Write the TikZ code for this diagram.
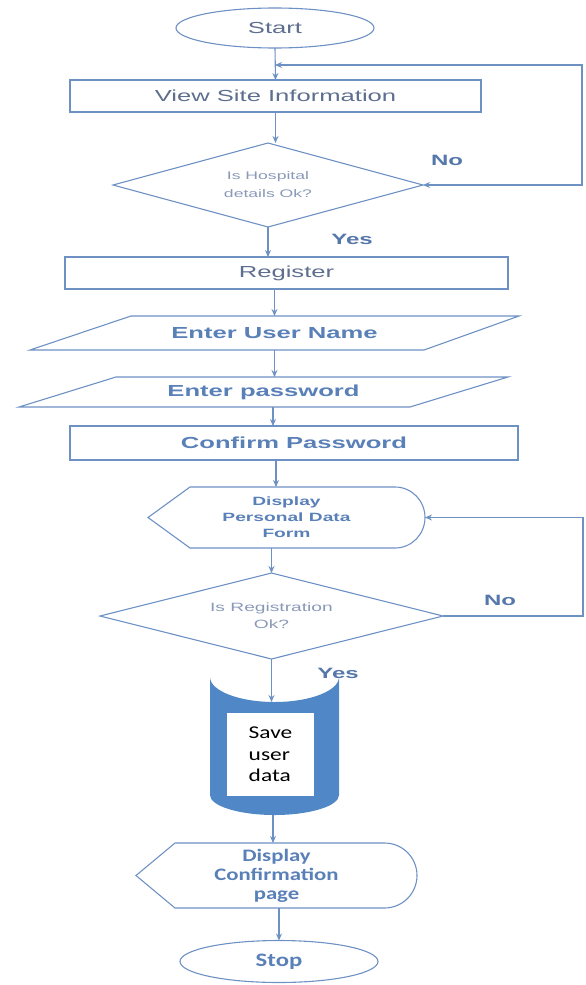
\documentclass[tikz,border=0pt]{standalone}
\usepackage{fontspec}
\setmainfont{Liberation Sans}[FakeStretch=1.6]
\newfontfamily\carlito{Carlito}[FakeStretch=1.3]
\usepackage{tikz}
\usetikzlibrary{shapes.geometric}
\usetikzlibrary{arrows.meta}
\definecolor{LINE}{HTML}{6E91C4}
\definecolor{GRAYTXT}{HTML}{5E6E8E}
\definecolor{BLUETXT}{HTML}{5A80B8}
\definecolor{DIATXT}{HTML}{8A99B8}
\definecolor{LABEL}{HTML}{5577AA}
\definecolor{DB}{HTML}{4F87C7}
\definecolor{BLACK}{HTML}{000000}

\begin{document}
\begin{tikzpicture}[x=1pt, y=-1pt,
    every node/.style={inner sep=0pt, outer sep=0pt},
    flow/.style={LINE, line width=1.1pt},
    arr/.style={flow, -{Stealth[length=7pt,width=6pt]}},
    terminal/.style={ellipse, draw=LINE, line width=1.1pt},
    procbox/.style={rectangle, draw=LINE, line width=1.1pt},
    decision/.style={diamond, draw=LINE, line width=1.1pt, align=center, text=DIATXT},
    holder/.style={rectangle, align=center},
    answer/.style={text=LABEL, font=\bfseries\fontsize{15}{18}\selectfont}]
    \useasboundingbox (0,0) rectangle (586,985);

    \node[terminal, minimum width=198pt, minimum height=40pt, text=GRAYTXT, font=\fontsize{16}{19}\selectfont] (start) at (275,28) {Start};
    \node[procbox, minimum width=411pt, minimum height=32pt, text=GRAYTXT, font=\fontsize{16}{19}\selectfont] (view) at (275.5,96) {View Site Information};
    \node[decision, aspect=3.7, minimum width=310pt, minimum height=84pt, font=\fontsize{11}{18}\selectfont] (hosp) at (268,185) {Is Hospital\\details Ok?};
    \node[procbox, minimum width=443pt, minimum height=32pt, text=GRAYTXT, font=\fontsize{16}{19}\selectfont] (reg) at (286.5,273) {Register};

    \draw[flow] (131,316) -- (519,316) -- (424,350) -- (30,350) -- cycle;
    \node[holder, minimum width=489pt, minimum height=34pt, text=BLUETXT, font=\bfseries\fontsize{16}{19}\selectfont] (user) at (274.5,333) {Enter User Name};
    \draw[flow] (116,377) -- (508,377) -- (410,407) -- (19,407) -- cycle;
    \node[holder, minimum width=489pt, minimum height=30pt, text=BLUETXT, font=\bfseries\fontsize{16}{19}\selectfont] (pass) at (263.5,392) {Enter password};
    \node[procbox, minimum width=448pt, minimum height=34pt, text=BLUETXT, font=\bfseries\fontsize{16}{19}\selectfont] (confirm) at (294,443) {Confirm Password};

    \draw[flow] (148,517.5) -- (190,487) -- (395,487) .. controls (412,487) and (425,501) .. (425,517.5) .. controls (425,534) and (412,548) .. (395,548) -- (190,548) -- cycle;
    \node[holder, minimum width=277pt, minimum height=61pt, text=BLUETXT, font=\bfseries\fontsize{12}{16}\selectfont] (form) at (286.5,517.5) {Display\\Personal Data\\Form};
    \node[decision, aspect=4, minimum width=343pt, minimum height=86pt, font=\fontsize{12}{17}\selectfont] (regok) at (271.5,616) {Is Registration\\Ok?};

    \fill[DB] (210,677) .. controls (210,690.8) and (238.9,702) .. (274.5,702) .. controls (310.1,702) and (339,690.8) .. (339,677) -- (339,795) .. controls (339,806) and (310.1,815) .. (274.5,815) .. controls (238.9,815) and (210,806) .. (210,795) -- cycle;
    \node[holder, minimum width=129pt, minimum height=113pt] (store) at (274.5,758.5) {};
    \node[rectangle, fill=white, minimum width=87pt, minimum height=83pt, align=left, text=BLACK, font=\carlito\fontsize{18}{21.5}\selectfont] (save) at (270.5,754.5) {Save\\user\\data};

    \draw[flow] (136,875.5) -- (175,843) -- (384.5,843) .. controls (402.5,843) and (417,857.5) .. (417,875.5) .. controls (417,893.5) and (402.5,908) .. (384.5,908) -- (175,908) -- cycle;
    \node[holder, minimum width=281pt, minimum height=65pt, text=BLUETXT, font=\carlito\bfseries\fontsize{17.5}{19}\selectfont] (done) at (276.5,875.5) {Display\\Confirmation\\page};
    \node[terminal, minimum width=198pt, minimum height=42pt, text=BLUETXT, font=\carlito\bfseries\fontsize{19}{22}\selectfont] (stop) at (279,961.5) {Stop};

    \node[answer] (no1) at (447,160) {No};
    \node[answer] (yes1) at (352,239) {Yes};
    \node[answer] (no2) at (500,600) {No};
    \node[answer] (yes2) at (338,673) {Yes};

    \coordinate (rt1) at (582,65);
    \coordinate (rt2) at (583,616);

    \draw[arr] (start.south) -- (view.north);
    \draw[arr] (view.south) -- (view.south |- hosp.north);
    \draw[flow, {Stealth[length=7pt,width=6pt]}-{Stealth[length=7pt,width=6pt]}] (hosp.east) -| (rt1) -- (start.south |- rt1);
    \draw[arr] (hosp.south) -- (hosp.south |- reg.north);
    \draw[arr] (reg.south -| user.north) -- (user.north);
    \draw[arr] (user.south) -- (user.south |- pass.north);
    \draw[arr] (pass.south -| 273,0) -- (273,426);
    \draw[arr] (confirm.south -| 276,0) -- (276,487);
    \draw[arr] (form.south -| regok.north) -- (regok.north);
    \draw[arr] (regok.east) -- (rt2) |- (form.east);
    \draw[arr] (regok.south) -- (regok.south |- store.north);
    \draw[arr] (store.south -| 273,0) -- (273,843);
    \draw[arr] (done.south -| stop.north) -- (stop.north);
\end{tikzpicture}
\end{document}
